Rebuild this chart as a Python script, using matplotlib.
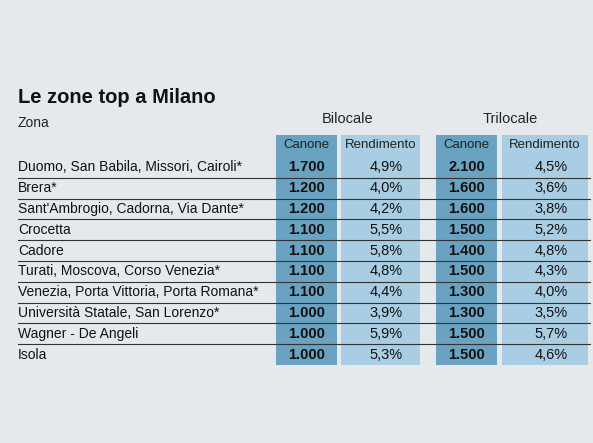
import matplotlib.pyplot as plt
from matplotlib.patches import Rectangle

plt.rcParams['font.family'] = ['Liberation Sans Narrow', 'Liberation Sans', 'DejaVu Sans']

zone = ['Duomo, San Babila, Missori, Cairoli*', 'Brera*', "Sant'Ambrogio, Cadorna, Via Dante*",
        'Crocetta', 'Cadore', 'Turati, Moscova, Corso Venezia*',
        'Venezia, Porta Vittoria, Porta Romana*', 'Università Statale, San Lorenzo*',
        'Wagner - De Angeli', 'Isola']
bil_canone = ['1.700', '1.200', '1.200', '1.100', '1.100', '1.100', '1.100', '1.000', '1.000', '1.000']
bil_rend = ['4,9%', '4,0%', '4,2%', '5,5%', '5,8%', '4,8%', '4,4%', '3,9%', '5,9%', '5,3%']
tri_canone = ['2.100', '1.600', '1.600', '1.500', '1.400', '1.500', '1.300', '1.300', '1.500', '1.500']
tri_rend = ['4,5%', '3,6%', '3,8%', '5,2%', '4,8%', '4,3%', '4,0%', '3,5%', '5,7%', '4,6%']

bg = '#e6e9ec'
dark = '#6aa2c2'
light = '#a9cde2'

fig = plt.figure(figsize=(5.93, 4.43), dpi=100, facecolor=bg)
ax = fig.add_axes([0, 0, 1, 1])
ax.set_xlim(0, 593)
ax.set_ylim(443, 0)
ax.axis('off')

ax.text(18, 97, 'Le zone top a Milano', fontsize=14.5, fontweight='bold', va='center', color='#111')
ax.text(18, 123, 'Zona', fontsize=10, va='center', color='#222')
ax.text(348, 119, 'Bilocale', fontsize=10.5, va='center', ha='center', color='#222')
ax.text(510, 119, 'Trilocale', fontsize=10.5, va='center', ha='center', color='#222')

cols = [(276, 337, dark, 'Canone', bil_canone, True),
        (341, 420, light, 'Rendimento', bil_rend, False),
        (436, 497, dark, 'Canone', tri_canone, True),
        (502, 588, light, 'Rendimento', tri_rend, False)]
top, row_h = 157, 20.8
for x0, x1, c, head, vals, bold in cols:
    ax.add_patch(Rectangle((x0, 135), x1 - x0, 365 - 135, color=c, lw=0))
    ax.text((x0 + x1) / 2, 145, head, fontsize=9.5, ha='center', va='center', color='#222')
    for i, v in enumerate(vals):
        ax.text((x0 + x1) / 2 + (0 if bold else 6), top + row_h * (i + 0.5), v, fontsize=10.5,
                ha='center', va='center', color='#111', fontweight='bold' if bold else 'normal')

for i, z in enumerate(zone):
    ax.text(18, top + row_h * (i + 0.5), z, fontsize=10, va='center', color='#111')
    if i < len(zone) - 1:
        ax.plot([18, 590], [top + row_h * (i + 1)] * 2, color='#333', lw=0.8)

fig.savefig('out.png', dpi=100, facecolor=bg)
